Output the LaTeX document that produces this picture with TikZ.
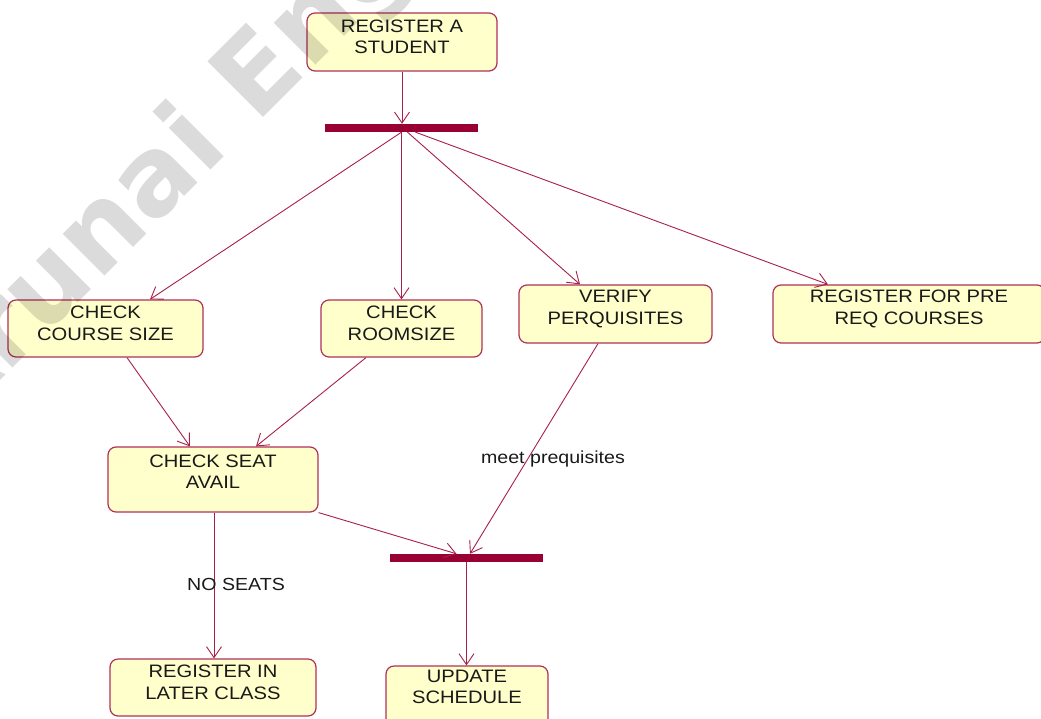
\documentclass[tikz,border=0pt]{standalone}
\usepackage{fontspec}
\setmainfont{Liberation Sans}[FakeStretch=1.12]
\newfontfamily\markfont{DejaVu Sans}
\usetikzlibrary{arrows.meta}
\definecolor{barred}{RGB}{153,0,51}
\definecolor{boxred}{RGB}{176,48,90}
\definecolor{edgered}{RGB}{168,32,72}
\definecolor{statefill}{RGB}{255,255,204}
\definecolor{txt}{RGB}{25,25,25}

\begin{document}
\begin{tikzpicture}[x=1pt,y=-1pt,
  state/.style={rectangle, rounded corners=8pt, draw=boxred, line width=1.2pt,
    fill=statefill, inner sep=0pt},
  stext/.style={align=center, text=txt, inner sep=0pt,
    font=\fontsize{18}{21.5}\selectfont},
  bar/.style={rectangle, fill=barred, draw=none, inner sep=0pt, minimum height=8pt},
  flow/.style={draw=edgered, line width=0.9pt,
    -{Straight Barb[length=11pt,width=15pt,line width=0.9pt]}},
  guard/.style={text=txt, inner sep=0pt, font=\fontsize{17.5}{20}\selectfont}
]
\useasboundingbox (0,0) rectangle (1041,718);
\clip (0,0) rectangle (1041,718);

% action states
\node[state, minimum width=190pt, minimum height=58pt,
  label={[stext, yshift=5pt]center:REGISTER A\\STUDENT}] (reg) at (402,42) {};
\node[state, minimum width=195pt, minimum height=57pt,
  label={[stext, yshift=5pt]center:CHECK\\COURSE SIZE}] (cs) at (105.5,328.5) {};
\node[state, minimum width=161pt, minimum height=57pt,
  label={[stext, yshift=5pt]center:CHECK\\ROOMSIZE}] (room) at (401.5,328.5) {};
\node[state, minimum width=193pt, minimum height=58pt,
  label={[stext, yshift=5pt]center:VERIFY\\PERQUISITES}] (ver) at (615.5,314) {};
\node[state, minimum width=272pt, minimum height=58pt] (pre) at (909,314) {};
\node[stext] (pretext) at (909,309) {REGISTER FOR PRE\\REQ COURSES};
\node[state, minimum width=210pt, minimum height=65pt,
  label={[stext, yshift=8pt]center:CHECK SEAT\\AVAIL}] (seat) at (213,479.5) {};
\node[state, minimum width=206pt, minimum height=57pt,
  label={[stext, yshift=5pt]center:REGISTER IN\\LATER CLASS}] (later) at (213,687.5) {};
\node[state, minimum width=162pt, minimum height=62pt,
  label={[stext, yshift=10pt]center:UPDATE\\SCHEDULE}] (upd) at (467,697) {};

% fork and join bars
\node[bar, minimum width=153pt] (fork) at (401.5,128) {};
\node[bar, minimum width=153pt] (join) at (466.5,558) {};

% transitions
\draw[flow] (reg.south) -- (reg.south |- fork.north);
\draw[flow] (fork.south) -- ([xshift=44.5pt]cs.north);
\draw[flow] (fork.south) -- (fork.south |- room.north);
\draw[flow] ([xshift=6pt]fork.south) -- ([xshift=-35.5pt]ver.north);
\draw[flow] ([xshift=14pt]fork.south) -- ([xshift=-81pt]pre.north);
\draw[flow] ([xshift=21.5pt]cs.south) -- ([xshift=-23pt]seat.north);
\draw[flow] ([xshift=-35.5pt]room.south) -- ([xshift=43pt]seat.north);
\draw[flow] ([xshift=-17.5pt]ver.south) -- ([xshift=3.5pt]join.north);
\draw[flow] (seat.south east) -- ([xshift=-10pt]join.north);
\draw[flow] ([xshift=1pt]seat.south) -- ([xshift=1pt]later.north);
\draw[flow] (join.south) -- (join.south |- upd.north);

% guard labels
\node[guard] (meet) at (553,459) {meet prequisites};
\node[guard] (noseats) at (236,584) {NO SEATS};

% watermark
\node[rotate=45, anchor=base west, inner sep=0pt, text=black, opacity=0.14,
  font=\markfont\bfseries\fontsize{108}{108}\selectfont] (mark) at (-53,434)
  {Arunai Engineering College};
\end{tikzpicture}
\end{document}
